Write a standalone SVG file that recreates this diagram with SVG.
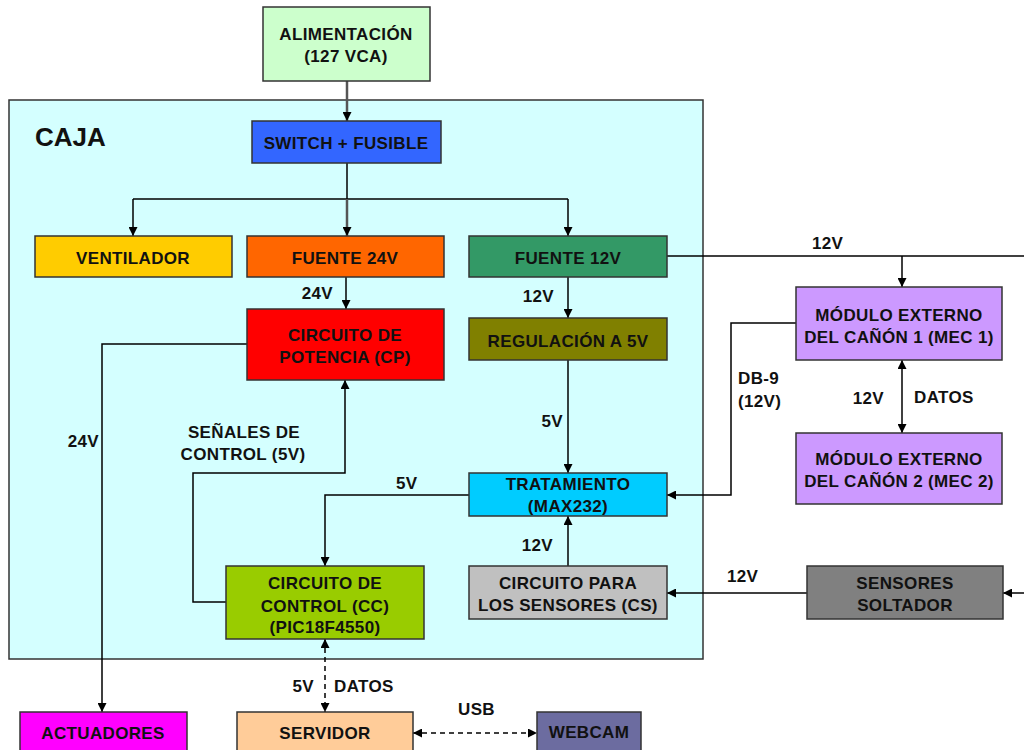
<svg xmlns="http://www.w3.org/2000/svg" width="1024" height="750" viewBox="0 0 1024 750">
<defs>
<marker id="arr" markerUnits="userSpaceOnUse" markerWidth="9" markerHeight="9" refX="9" refY="4.5" orient="auto-start-reverse" viewBox="0 0 9 9">
<path d="M0,0 L9,4.5 L0,9 z" fill="#000"/>
</marker>
</defs>
<style>
.n{stroke:#333;stroke-width:1.5}
.t{font-family:"Liberation Sans",Arial,sans-serif;font-weight:bold;font-size:17px;letter-spacing:0.35px;fill:#111;text-anchor:middle}
.l{font-family:"Liberation Sans",Arial,sans-serif;font-weight:bold;font-size:17px;letter-spacing:0.35px;fill:#111}
.c{fill:none;stroke:#000;stroke-width:1.5}
.g{fill:none;stroke:#555;stroke-width:2.5}
.d{fill:none;stroke:#000;stroke-width:1.5;stroke-dasharray:5,4}
</style>
<rect width="1024" height="750" fill="#fff"/>
<g id="caja">
<rect x="9" y="100" width="694" height="559" fill="#d4ffff" class="n"/>
<text x="35" y="146" class="l" style="font-size:26px;letter-spacing:0">CAJA</text>
</g>
<g id="connectors">
<path d="M347,81 V121" class="g" marker-end="url(#arr)"/>
<path d="M347,163 V199" class="c"/>
<path d="M133,199 H568" class="c"/>
<path d="M133,199 V236" class="c" marker-end="url(#arr)"/>
<path d="M568,199 V236" class="c" marker-end="url(#arr)"/>
<path d="M347,199 V236" class="g" marker-end="url(#arr)"/>
<path d="M346,277 V309" class="c" marker-end="url(#arr)"/>
<path d="M247,344 H102 V712" class="c" marker-end="url(#arr)"/>
<path d="M568,277 V318" class="c" marker-end="url(#arr)"/>
<path d="M568,360 V473" class="c" marker-end="url(#arr)"/>
<path d="M667,256 H1024" class="c"/>
<path d="M902,256 V287" class="c" marker-end="url(#arr)"/>
<path d="M902,360 V433" class="c" marker-start="url(#arr)" marker-end="url(#arr)"/>
<path d="M796,323 H731 V495 H667" class="c" marker-end="url(#arr)"/>
<path d="M469,495 H325 V566" class="c" marker-end="url(#arr)"/>
<path d="M568,566 V516" class="c" marker-end="url(#arr)"/>
<path d="M807,593 H667" class="c" marker-end="url(#arr)"/>
<path d="M1024,593 H1003" class="c" marker-end="url(#arr)"/>
<path d="M226,602 H193 V473 H345 V380" class="c" marker-end="url(#arr)"/>
<path d="M325,639 V712" class="d" marker-start="url(#arr)" marker-end="url(#arr)"/>
<path d="M413,733 H537" class="d" marker-start="url(#arr)" marker-end="url(#arr)"/>
<text x="333" y="299" class="l" text-anchor="end">24V</text>
<text x="554" y="302" class="l" text-anchor="end">12V</text>
<text x="563" y="427" class="l" text-anchor="end">5V</text>
<text x="812" y="249" class="l">12V</text>
<text x="738" y="384" class="l">DB-9</text>
<text x="738" y="407" class="l">(12V)</text>
<text x="884" y="404" class="l" text-anchor="end">12V</text>
<text x="914" y="403" class="l">DATOS</text>
<text x="553" y="551" class="l" text-anchor="end">12V</text>
<text x="727" y="582" class="l">12V</text>
<text x="458" y="715" class="l">USB</text>
<text x="244" y="438" class="t">SEÑALES DE</text>
<text x="243" y="460" class="t">CONTROL (5V)</text>
<text x="99" y="447" class="l" text-anchor="end">24V</text>
<text x="396" y="489" class="l">5V</text>
<text x="314" y="692" class="l" text-anchor="end">5V</text>
<text x="334" y="692" class="l">DATOS</text>
</g>
<g id="alimentacion">
<rect x="263" y="7" width="167" height="74" fill="#ccffcc" class="n"/>
<text x="346" y="40" class="t">ALIMENTACIÓN</text>
<text x="346" y="62" class="t">(127 VCA)</text>
</g>
<g id="switch">
<rect x="252" y="121" width="189" height="42" fill="#3366ff" class="n"/>
<text x="346" y="149" class="t">SWITCH + FUSIBLE</text>
</g>
<g id="ventilador">
<rect x="35" y="236" width="197" height="41" fill="#ffcc00" class="n"/>
<text x="133" y="264" class="t">VENTILADOR</text>
</g>
<g id="fuente24">
<rect x="247" y="236" width="197" height="41" fill="#ff6600" class="n"/>
<text x="345" y="264" class="t">FUENTE 24V</text>
</g>
<g id="fuente12">
<rect x="469" y="236" width="198" height="41" fill="#339966" class="n"/>
<text x="568" y="264" class="t">FUENTE 12V</text>
</g>
<g id="potencia">
<rect x="247" y="309" width="197" height="71" fill="#ff0000" class="n"/>
<text x="345" y="341" class="t">CIRCUITO DE</text>
<text x="345" y="363" class="t">POTENCIA (CP)</text>
</g>
<g id="regulacion">
<rect x="469" y="318" width="198" height="42" fill="#808000" class="n"/>
<text x="568" y="347" class="t">REGULACIÓN A 5V</text>
</g>
<g id="tratamiento">
<rect x="469" y="473" width="198" height="43" fill="#00ccff" class="n"/>
<text x="568" y="490" class="t">TRATAMIENTO</text>
<text x="568" y="512" class="t">(MAX232)</text>
</g>
<g id="mec1">
<rect x="796" y="287" width="206" height="73" fill="#cc99ff" class="n"/>
<text x="899" y="321" class="t">MÓDULO EXTERNO</text>
<text x="899" y="343" class="t">DEL CAÑÓN 1 (MEC 1)</text>
</g>
<g id="mec2">
<rect x="796" y="433" width="206" height="71" fill="#cc99ff" class="n"/>
<text x="899" y="465" class="t">MÓDULO EXTERNO</text>
<text x="899" y="487" class="t">DEL CAÑÓN 2 (MEC 2)</text>
</g>
<g id="sensores-cs">
<rect x="469" y="566" width="198" height="53" fill="#c0c0c0" class="n"/>
<text x="568" y="589" class="t">CIRCUITO PARA</text>
<text x="568" y="611" class="t">LOS SENSORES (CS)</text>
</g>
<g id="sensores-soltador">
<rect x="807" y="566" width="196" height="53" fill="#808080" class="n"/>
<text x="905" y="589" class="t">SENSORES</text>
<text x="905" y="611" class="t">SOLTADOR</text>
</g>
<g id="control">
<rect x="226" y="566" width="198" height="73" fill="#99cc00" class="n"/>
<text x="325" y="589" class="t">CIRCUITO DE</text>
<text x="325" y="612" class="t">CONTROL (CC)</text>
<text x="325" y="633" class="t">(PIC18F4550)</text>
</g>
<g id="actuadores">
<rect x="20" y="712" width="167" height="45" fill="#ff00ff" class="n"/>
<text x="103" y="739" class="t">ACTUADORES</text>
</g>
<g id="servidor">
<rect x="237" y="712" width="176" height="45" fill="#ffcc99" class="n"/>
<text x="325" y="739" class="t">SERVIDOR</text>
</g>
<g id="webcam">
<rect x="537" y="712" width="104" height="45" fill="#6c6ca0" class="n"/>
<text x="589" y="738" class="t">WEBCAM</text>
</g>
</svg>
